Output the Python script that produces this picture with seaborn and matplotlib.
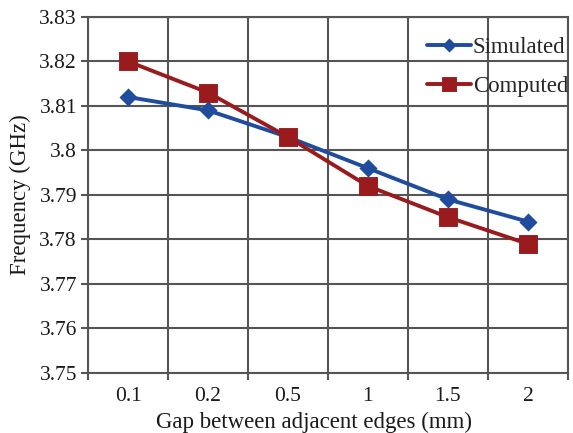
import matplotlib
matplotlib.use("Agg")
import matplotlib.pyplot as plt
import seaborn as sns
import pandas as pd
from matplotlib.ticker import FixedLocator, NullFormatter

gaps = ["0.1", "0.2", "0.5", "1", "1.5", "2"]
simulated = [3.812, 3.809, 3.803, 3.796, 3.789, 3.784]
computed = [3.820, 3.813, 3.803, 3.792, 3.785, 3.779]
y_ticks = [3.75, 3.76, 3.77, 3.78, 3.79, 3.80, 3.81, 3.82, 3.83]
y_labels = ["3.75", "3.76", "3.77", "3.78", "3.79", "3.8", "3.81", "3.82", "3.83"]

df = pd.DataFrame({
    "gap": gaps * 2,
    "freq": simulated + computed,
    "series": ["Simulated"] * len(gaps) + ["Computed"] * len(gaps),
})

sns.set_style("white")
plt.rcParams["font.family"] = ["Liberation Serif", "DejaVu Serif"]

fig = plt.figure(figsize=(5.73, 4.33), dpi=100)
ax = fig.add_axes([0.1536, 0.1386, 0.8376, 0.8224])

blue = "#1F4C9C"
red = "#9A1B1E"
sns.pointplot(data=df, x="gap", y="freq", hue="series", order=gaps,
              hue_order=["Simulated", "Computed"],
              palette={"Simulated": blue, "Computed": red},
              markers=["D", "s"], linestyles=["-", "-"], errorbar=None,
              markersize=11, linewidth=2.8, ax=ax)

for ln in ax.lines:
    if ln.get_marker() == "D":
        ln.set_markersize(6.8)

ax.set_xlim(-0.5, len(gaps) - 0.5)
ax.set_ylim(3.75, 3.83)
ax.set_yticks(y_ticks)
ax.set_yticklabels(y_labels)

bounds = [i - 0.5 for i in range(len(gaps) + 1)]
ax.xaxis.set_major_locator(FixedLocator(bounds))
ax.xaxis.set_major_formatter(NullFormatter())
ax.xaxis.set_minor_locator(FixedLocator(list(range(len(gaps)))))
ax.set_xticklabels(gaps, minor=True)
ax.tick_params(axis="x", which="major", length=5, width=1.5, color="#555555", direction="out", bottom=True)
ax.tick_params(axis="x", which="minor", length=0, labelsize=15.5, pad=10, colors="#1a1a1a")
ax.tick_params(axis="y", which="major", length=5, width=1.5, color="#555555", direction="out", left=True,
               labelsize=15.5, colors="#1a1a1a", pad=3)

ax.grid(True, which="major", axis="both", color="#555555", linewidth=1.5)
ax.set_axisbelow(True)
for s in ax.spines.values():
    s.set_color("#555555")
    s.set_linewidth(1.5)

ax.set_xlabel("Gap between adjacent edges (mm)", fontsize=16.5, color="#1a1a1a")
ax.xaxis.set_label_coords(0.471, -0.11)
ax.set_ylabel("Frequency (GHz)", fontsize=16.5, color="#1a1a1a", labelpad=6)

h, l = ax.get_legend_handles_labels()
leg = ax.legend(h, l, loc="upper right", frameon=False, fontsize=16.5,
                handlelength=1.9, handletextpad=0.1, labelspacing=0.78,
                borderaxespad=0.0, borderpad=0.3, bbox_to_anchor=(1.015, 0.964))
for lh in leg.legend_handles:
    lh.set_linewidth(2.8)
    lh.set_markersize(5.2 if lh.get_marker() == "D" else 8.5)

fig.savefig("out.png", dpi=100)
